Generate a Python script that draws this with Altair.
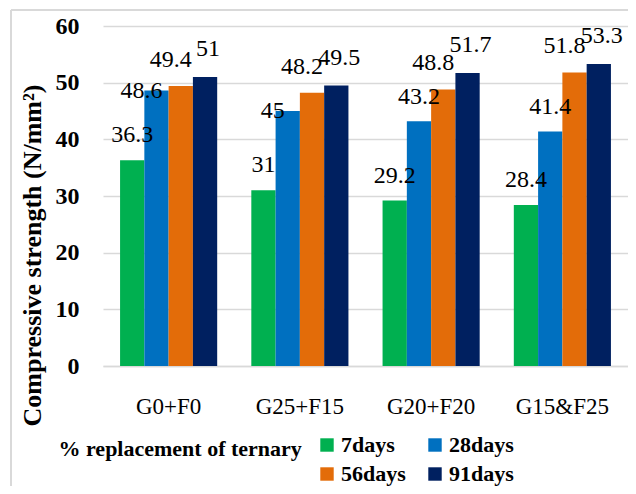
import altair as alt
import pandas as pd

categories = ["G0+F0", "G25+F15", "G20+F20", "G15&F25"]
series = ["7days", "28days", "56days", "91days"]
d7 = [36.3, 31, 29.2, 28.4]
d28 = [48.6, 45, 43.2, 41.4]
d56 = [49.4, 48.2, 48.8, 51.8]
d91 = [51, 49.5, 51.7, 53.3]
colors = ["#00B050", "#0070C0", "#E36C09", "#002060"]
y_ticks = [0, 10, 20, 30, 40, 50, 60]

all_vals = [d7, d28, d56, d91]
rows = []
for si, (name, vals) in enumerate(zip(series, all_vals)):
    for ci, (c, v) in enumerate(zip(categories, vals)):
        nxt = all_vals[si + 1][ci] if si + 1 < len(all_vals) else None
        crowded = nxt is not None and (nxt - v) < 4
        rows.append({"cat": c, "series": name, "value": v, "crowded": crowded})
df = pd.DataFrame(rows)

FONT = "Liberation Serif, Times New Roman, serif"

x = alt.X("cat:N", sort=categories,
          scale=alt.Scale(paddingInner=0.26, paddingOuter=0.13),
          axis=alt.Axis(title="% replacement of ternary", labelAngle=0,
                        labelFont=FONT, labelFontSize=23, labelColor="#000",
                        labelPadding=29, ticks=False, domainColor="#d9d9d9",
                        domainWidth=1.5,
                        titleFont=FONT, titleFontSize=22, titleFontWeight="bold",
                        titleColor="#000", titleX=-45, titleY=89,
                        titleAlign="left", titleBaseline="alphabetic"))
xo = alt.XOffset("series:N", sort=series)

base = alt.Chart(df)

bars = base.mark_bar().encode(
    x=x, xOffset=xo,
    y=alt.Y("value:Q", scale=alt.Scale(domain=[0, 60]),
            axis=alt.Axis(values=y_ticks, title="Compressive strength  (N/mm²)",
                          labelFont=FONT, labelFontSize=24, labelFontWeight="bold",
                          labelColor="#000", labelPadding=24, ticks=False,
                          domain=False, gridColor="#d9d9d9", gridWidth=1.5,
                          titleFont=FONT, titleFontSize=26, titleFontWeight="bold",
                          titleColor="#000", titleX=-71, titleY=229,
                          titleAlign="center", titleBaseline="middle")),
    color=alt.Color("series:N", sort=series,
                    scale=alt.Scale(domain=series, range=colors),
                    legend=alt.Legend(title=None, orient="none", legendX=213,
                                      legendY=408, columns=2, direction="horizontal",
                                      symbolType="square",
                                      symbolSize=180, symbolStrokeWidth=0,
                                      labelFont=FONT, labelFontSize=22,
                                      labelFontWeight="bold", labelColor="#000",
                                      labelOffset=3, columnPadding=18,
                                      rowPadding=7)),
)


def label_layer(flt, dx, dy):
    return base.transform_filter(flt).mark_text(
        font=FONT, fontSize=24, color="#000", baseline="alphabetic",
        dx=dx, dy=dy).encode(x=x, xOffset=xo, y="value:Q", text="value:Q")


lab_green = label_layer("datum.series == '7days'", 0, -18)
lab_blue = label_layer("datum.series == '28days' && !datum.crowded", 0, -17)
lab_blue_c = label_layer("datum.series == '28days' && datum.crowded", -15, 7)
lab_orange = label_layer("datum.series == '56days'", -10, -19)
lab_navy = label_layer("datum.series == '91days'", 3, -21)

frame = alt.Chart(df).mark_rule(color="#d9d9d9", strokeWidth=1.5).encode(
    x=alt.value(-92), y=alt.value(-16), y2=alt.value(470))
frame2 = alt.Chart(df).mark_rule(color="#d9d9d9", strokeWidth=1.5).encode(
    x=alt.value(-92), x2=alt.value(540), y=alt.value(-16))

chart = alt.layer(bars, lab_green, lab_blue, lab_blue_c, lab_orange, lab_navy,
                  frame, frame2).properties(
    width=525, height=340,
    padding={"left": 95, "top": 18, "right": 0, "bottom": 120},
    autosize=alt.AutoSizeParams(type="none"),
    background="white",
).configure_view(stroke=None)

chart.save("out.html", embed_options={"renderer": "svg", "actions": False})
